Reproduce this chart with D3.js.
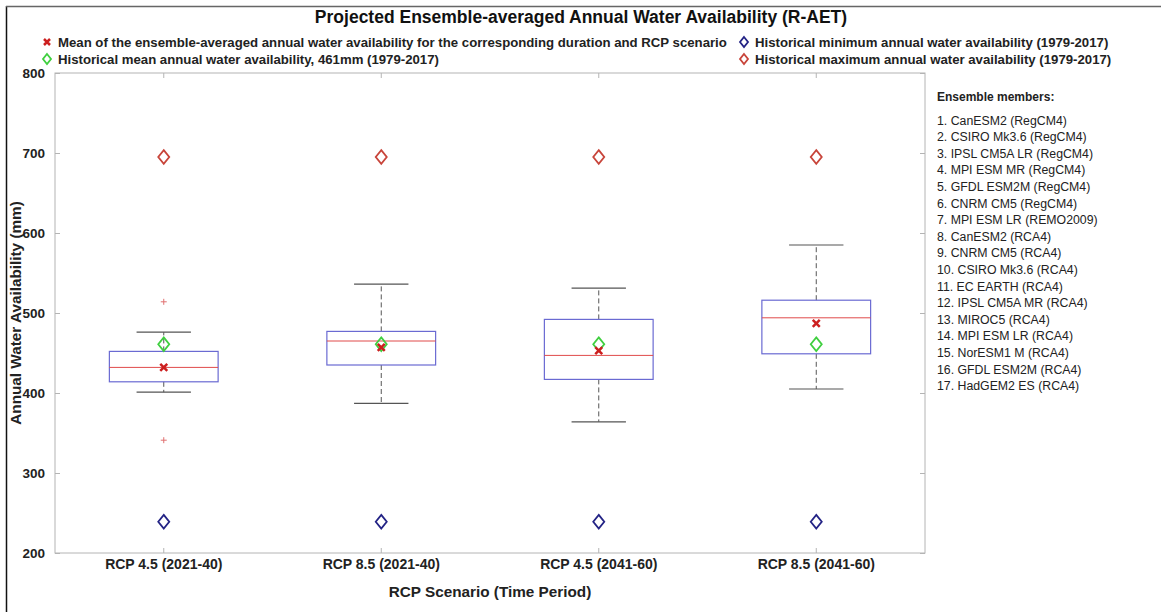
<!DOCTYPE html>
<html>
<head>
<meta charset="utf-8">
<script src="https://cdn.jsdelivr.net/npm/d3@7"></script>
<style>
  body { margin: 0; background: #fff; }
  text { font-family: "Liberation Sans", Arial, sans-serif; }
</style>
</head>
<body>
<script>
/* DATA */
const scenarios = ["RCP 4.5 (2021-40)", "RCP 8.5 (2021-40)", "RCP 4.5 (2041-60)", "RCP 8.5 (2041-60)"];
const whiskerLow = [401, 387, 364, 405];
const q1 = [414, 435, 417, 449];
const medians = [432, 465, 447, 494];
const q3 = [452, 477, 492, 516];
const whiskerHigh = [476, 536, 531, 585];
const ensembleMeans = [432, 457, 453, 487];
const outliers = [[514, 341], [], [], []];
const histMean = 461, histMin = 239, histMax = 695;
const yTicks = [200, 300, 400, 500, 600, 700, 800];
const members = [
  "1. CanESM2 (RegCM4)", "2. CSIRO Mk3.6 (RegCM4)", "3. IPSL CM5A LR (RegCM4)",
  "4. MPI ESM MR (RegCM4)", "5. GFDL ESM2M (RegCM4)", "6. CNRM CM5 (RegCM4)",
  "7. MPI ESM LR (REMO2009)", "8. CanESM2 (RCA4)", "9. CNRM CM5 (RCA4)",
  "10. CSIRO Mk3.6 (RCA4)", "11. EC EARTH (RCA4)", "12. IPSL CM5A MR (RCA4)",
  "13. MIROC5 (RCA4)", "14. MPI ESM LR (RCA4)", "15. NorESM1 M (RCA4)",
  "16. GFDL ESM2M (RCA4)", "17. HadGEM2 ES (RCA4)"
];

/* CONSTANTS */
const width = 1161, height = 612;
const plot = { left: 55, right: 925, top: 73, bottom: 553 };
const colors = { box: "#6a6ad2", median: "#e04a4a", mean: "#cc1f1f", hMean: "#3fcf3f", hMin: "#232385", hMax: "#c8443a", frame: "#b4b4b4" };

const svg = d3.select("body").append("svg")
  .attr("width", width)
  .attr("height", height);

// outer figure border (left and top)
svg.append("line").attr("x1", 6.5).attr("x2", 6.5).attr("y1", 6).attr("y2", height)
  .attr("stroke", "#111").attr("stroke-width", 1.5);
svg.append("line").attr("x1", 6).attr("x2", width).attr("y1", 6.5).attr("y2", 6.5)
  .attr("stroke", "#666").attr("stroke-width", 1.5);

// scales
const x = d3.scaleBand().domain(scenarios).range([plot.left, plot.right]);
const y = d3.scaleLinear().domain([200, 800]).range([plot.bottom, plot.top]);
const cx = d => x(d) + x.bandwidth() / 2;
const boxHalf = x.bandwidth() * 0.25;
const capHalf = x.bandwidth() * 0.125;

// plot frame
svg.append("rect")
  .attr("x", plot.left).attr("y", plot.top)
  .attr("width", plot.right - plot.left).attr("height", plot.bottom - plot.top)
  .attr("fill", "none").attr("stroke", colors.frame);

// axes (ticks point inward, like MATLAB)
const yAxisL = svg.append("g").attr("transform", `translate(${plot.left},0)`)
  .call(d3.axisLeft(y).tickValues(yTicks).tickSize(-5).tickPadding(10));
const yAxisR = svg.append("g").attr("transform", `translate(${plot.right},0)`)
  .call(d3.axisRight(y).tickValues(yTicks).tickSize(-5).tickFormat(""));
const xAxisB = svg.append("g").attr("transform", `translate(0,${plot.bottom})`)
  .call(d3.axisBottom(x).tickSize(-5).tickPadding(6));
const xAxisT = svg.append("g").attr("transform", `translate(0,${plot.top})`)
  .call(d3.axisTop(x).tickSize(-5).tickFormat(""));
[yAxisL, yAxisR, xAxisB, xAxisT].forEach(g => {
  g.select(".domain").remove();
  g.selectAll(".tick line").attr("stroke", colors.frame);
  g.selectAll(".tick text").attr("fill", "#222").attr("font-weight", "bold");
});
yAxisL.selectAll(".tick text").attr("font-size", 13.5);
xAxisB.selectAll(".tick text").attr("font-size", 14);

// axis titles
svg.append("text")
  .attr("x", (plot.left + plot.right) / 2).attr("y", 597)
  .attr("text-anchor", "middle").attr("font-size", 15.3).attr("font-weight", "bold").attr("fill", "#222")
  .text("RCP Scenario (Time Period)");
svg.append("text")
  .attr("transform", `translate(21,${(plot.top + plot.bottom) / 2}) rotate(-90)`)
  .attr("text-anchor", "middle").attr("font-size", 15.3).attr("font-weight", "bold").attr("fill", "#222")
  .text("Annual Water Availability (mm)");

// title
svg.append("text")
  .attr("x", 581).attr("y", 23)
  .attr("text-anchor", "middle").attr("font-size", 17.5).attr("font-weight", "bold").attr("fill", "#111")
  .text("Projected Ensemble-averaged Annual Water Availability (R-AET)");

// markers
function diamond(g, px, py, color, r = 5.5) {
  g.append("path")
    .attr("d", `M${px},${py - r * 1.25}L${px + r},${py}L${px},${py + r * 1.25}L${px - r},${py}Z`)
    .attr("fill", "none").attr("stroke", color).attr("stroke-width", 1.8);
}
function cross(g, px, py, color, r = 3.5) {
  g.append("path")
    .attr("d", `M${px - r},${py - r}L${px + r},${py + r}M${px - r},${py + r}L${px + r},${py - r}`)
    .attr("stroke", color).attr("stroke-width", 2.5);
}

// boxes
const boxes = svg.append("g");
scenarios.forEach((s, i) => {
  const c = cx(s);
  const g = boxes.append("g");
  // whiskers
  g.append("line").attr("x1", c).attr("x2", c).attr("y1", y(q3[i])).attr("y2", y(whiskerHigh[i]))
    .attr("stroke", "#555").attr("stroke-dasharray", "5,3");
  g.append("line").attr("x1", c).attr("x2", c).attr("y1", y(q1[i])).attr("y2", y(whiskerLow[i]))
    .attr("stroke", "#555").attr("stroke-dasharray", "5,3");
  [whiskerHigh[i], whiskerLow[i]].forEach(v => {
    g.append("line").attr("x1", c - capHalf).attr("x2", c + capHalf).attr("y1", y(v)).attr("y2", y(v))
      .attr("stroke", "#555").attr("stroke-width", 1.2);
  });
  g.append("rect")
    .attr("x", c - boxHalf).attr("y", y(q3[i]))
    .attr("width", boxHalf * 2).attr("height", y(q1[i]) - y(q3[i]))
    .attr("fill", "none").attr("stroke", colors.box).attr("stroke-width", 1.2);
  g.append("line").attr("x1", c - boxHalf).attr("x2", c + boxHalf).attr("y1", y(medians[i])).attr("y2", y(medians[i]))
    .attr("stroke", colors.median).attr("stroke-width", 1);
  outliers[i].forEach(v => {
    g.append("path")
      .attr("d", `M${c - 3},${y(v)}H${c + 3}M${c},${y(v) - 3}V${y(v) + 3}`)
      .attr("stroke", "#e07070").attr("stroke-width", 1);
  });
  diamond(g, c, y(histMax), colors.hMax);
  diamond(g, c, y(histMin), colors.hMin);
  diamond(g, c, y(histMean), colors.hMean);
  cross(g, c, y(ensembleMeans[i]), colors.mean);
});

// legend at top
const legend = svg.append("g");
const legendItems = [
  { px: 47, py: 42, type: "cross", color: colors.mean, label: "Mean of the ensemble-averaged annual water availability for the corresponding duration and RCP scenario" },
  { px: 47, py: 59, type: "diamond", color: colors.hMean, label: "Historical mean annual water availability, 461mm (1979-2017)" },
  { px: 744, py: 42, type: "diamond", color: colors.hMin, label: "Historical minimum annual water availability (1979-2017)" },
  { px: 744, py: 59, type: "diamond", color: colors.hMax, label: "Historical maximum annual water availability (1979-2017)" }
];
legendItems.forEach(d => {
  if (d.type === "cross") cross(legend, d.px, d.py, d.color, 3);
  else diamond(legend, d.px, d.py, d.color, 4);
  legend.append("text")
    .attr("x", d.px + 11).attr("y", d.py + 4.5)
    .attr("font-size", 13.2).attr("font-weight", "bold").attr("fill", "#222")
    .text(d.label);
});

// ensemble members list
const mem = svg.append("g").attr("transform", "translate(937,0)");
mem.append("text").attr("x", 0).attr("y", 101)
  .attr("font-size", 12).attr("font-weight", "bold").attr("fill", "#222")
  .text("Ensemble members:");
mem.selectAll("text.member")
  .data(members)
  .enter()
  .append("text")
  .attr("class", "member")
  .attr("x", 0)
  .attr("y", (d, i) => 124.5 + i * 16.6)
  .attr("font-size", 12.3)
  .attr("fill", "#222")
  .text(d => d);
</script>
</body>
</html>
